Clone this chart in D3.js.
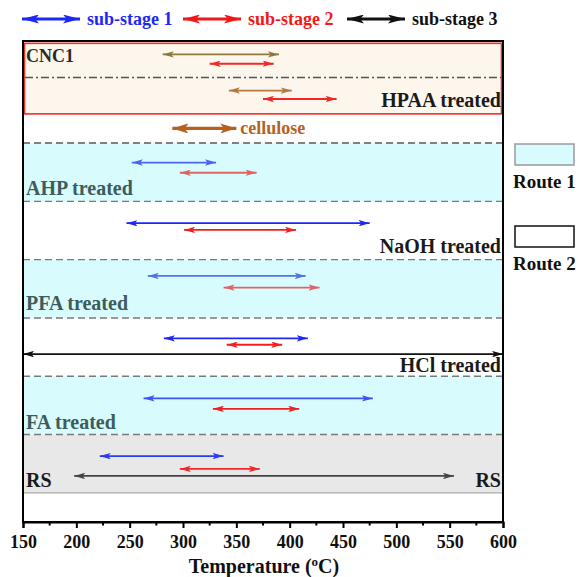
<!DOCTYPE html>
<html>
<head>
<meta charset="utf-8">
<script src="https://cdn.jsdelivr.net/npm/d3@7"></script>
<style>
  body { margin: 0; background: #fff; }
  svg text { font-family: "Liberation Serif", "Times New Roman", serif; font-weight: bold; }
</style>
</head>
<body>
<div id="chart"></div>
<script>
// Temperature ranges of the decomposition sub-stages
var arrowSample = ["CNC1", "CNC1", "HPAA", "HPAA", "cellulose",
                   "AHP", "AHP", "NaOH", "NaOH", "PFA", "PFA",
                   "HCl", "HCl", "HCl", "FA", "FA", "RS", "RS", "RS"];
var arrowStage  = ["ref", "2", "ref", "2", "cell",
                   "1", "2", "1", "2", "1", "2",
                   "1", "2", "3", "1", "2", "1", "2", "3"];
var arrowStart  = [281, 325, 343, 375, 290, 252, 297, 247, 301, 267, 338, 282, 341, 150, 263, 328, 222, 297, 198];
var arrowEnd    = [390, 385, 402, 444, 350, 331, 369, 475, 406, 415, 428, 417, 393, 600, 478, 409, 338, 372, 554];
var arrowLane   = [0.46, 0.78, 1.70, 1.99, 3.0, 4.17, 4.52, 6.25, 6.48, 8.06, 8.46,
                   10.2, 10.42, 10.74, 12.26, 12.62, 14.24, 14.68, 14.92];
var arrowColor  = ["#8f7a3c", "#f02828", "#b07a40", "#f02828", "#b5621e",
                   "#4b64f0", "#e06464", "#1e28f5", "#f02020", "#5570ee", "#e06464",
                   "#1e28f5", "#f02020", "#111111", "#3a55f0", "#f02020", "#2a3cf0", "#f02828", "#444444"];

// Horizontal bands (in lane units) and which route they belong to
var bandName   = ["cellulose", "AHP", "NaOH", "PFA", "HCl", "FA", "RS"];
var bandTop    = [2.5, 3.5, 5.5, 7.5, 9.5, 11.5, 13.5];
var bandBottom = [3.5, 5.5, 7.5, 9.5, 11.5, 13.5, 15.5];
var bandRoute  = ["none", "1", "2", "1", "2", "1", "raw"];

var labelText  = ["CNC1", "HPAA treated", "AHP treated", "NaOH treated", "PFA treated", "HCl treated", "FA treated", "RS", "RS"];
var labelLane  = [0.71, 2.26, 5.28, 7.27, 9.23, 11.34, 13.31, 15.3, 15.3];
var labelSide  = ["left", "right", "left", "right", "left", "right", "left", "left", "right"];

var stageNames  = ["sub-stage 1", "sub-stage 2", "sub-stage 3"];
var stageColors = ["#1e28f5", "#f01818", "#111111"];
var routeNames  = ["Route 1", "Route 2"];
var xTicks = d3.range(150, 601, 50);
var xMinorTicks = d3.range(175, 600, 50);

// Layout
var W = 579, H = 577;
var margin = { top: 41, right: 76, bottom: 55, left: 23 };
var width = W - margin.left - margin.right,
    height = H - margin.top - margin.bottom;

var svg = d3.select('#chart').append('svg')
    .attr('width', W)
    .attr('height', H);

var x = d3.scaleLinear().domain([150, 600]).range([margin.left, margin.left + width]);
var y = d3.scaleLinear().domain([0, 16.5]).range([margin.top, margin.top + height]);

var routeFill = { "1": "#d8fbfd", "2": "#ffffff", "none": "#ffffff", "raw": "#e8e8e8" };

// Arrow head markers, one per colour
var defs = svg.append("defs");
function marker(color, len, half) {
    var id = "m" + color.replace("#", "") + "_" + len;
    if (defs.select("#" + id).empty()) {
        defs.append("marker")
            .attr("id", id)
            .attr("markerUnits", "userSpaceOnUse")
            .attr("viewBox", "0 " + (-half) + " " + len + " " + (2 * half))
            .attr("refX", len)
            .attr("refY", 0)
            .attr("markerWidth", len)
            .attr("markerHeight", 2 * half)
            .attr("orient", "auto-start-reverse")
            .append("path")
            .attr("d", "M0," + (-half) + "L" + len + ",0L0," + half + "L" + (len * 0.22) + ",0Z")
            .attr("fill", color);
    }
    return "url(#" + id + ")";
}

// Bands
svg.selectAll("rect.band")
    .data(bandName)
    .enter().append("rect")
    .attr("class", "band")
    .attr("x", x(150))
    .attr("width", x(600) - x(150))
    .attr("y", function (d, i) { return y(bandTop[i]); })
    .attr("height", function (d, i) { return y(bandBottom[i]) - y(bandTop[i]); })
    .attr("fill", function (d, i) { return routeFill[bandRoute[i]]; });

// Dashed separators between bands
svg.selectAll("line.sep")
    .data(bandTop.slice(1).concat([bandTop[0]]).filter(function (d) { return d !== 2.5 && d !== 13.5; }).concat([3.5, 13.5]))
    .enter().append("line")
    .attr("x1", x(150)).attr("x2", x(600))
    .attr("y1", function (d) { return y(d); })
    .attr("y2", function (d) { return y(d); })
    .attr("stroke", "#7a7a7a")
    .attr("stroke-width", 1.4)
    .attr("stroke-dasharray", "7,4");

// RS bottom line
svg.append("line")
    .attr("x1", x(150)).attr("x2", x(600))
    .attr("y1", y(15.5)).attr("y2", y(15.5))
    .attr("stroke", "#a8a8a8").attr("stroke-width", 1.2);

// CNC1 / HPAA box
svg.append("rect")
    .attr("x", x(150) + 1.5)
    .attr("y", y(0.08))
    .attr("width", x(600) - x(150) - 3)
    .attr("height", y(2.5) - y(0.08))
    .attr("fill", "#fdf6ed")
    .attr("stroke", "#e8302c")
    .attr("stroke-width", 1.6);

svg.append("line")
    .attr("x1", x(150) + 2).attr("x2", x(600) - 2)
    .attr("y1", y(1.25)).attr("y2", y(1.25))
    .attr("stroke", "#555")
    .attr("stroke-width", 1.5)
    .attr("stroke-dasharray", "8,3,2,3");

// Arrows
svg.selectAll("line.arrow")
    .data(arrowStart)
    .enter().append("line")
    .attr("class", "arrow")
    .attr("x1", function (d, i) { return x(arrowStart[i]); })
    .attr("x2", function (d, i) { return x(arrowEnd[i]); })
    .attr("y1", function (d, i) { return y(arrowLane[i]); })
    .attr("y2", function (d, i) { return y(arrowLane[i]); })
    .attr("stroke", function (d, i) { return arrowColor[i]; })
    .attr("stroke-width", function (d, i) { return arrowStage[i] === "cell" ? 3.2 : 1.8; })
    .attr("marker-start", function (d, i) {
        return arrowStage[i] === "cell" ? marker(arrowColor[i], 16, 5) : marker(arrowColor[i], 11, 3.2);
    })
    .attr("marker-end", function (d, i) {
        return arrowStage[i] === "cell" ? marker(arrowColor[i], 16, 5) : marker(arrowColor[i], 11, 3.2);
    });

svg.append("text")
    .attr("x", x(350) + 4)
    .attr("y", y(3.19))
    .attr("font-size", 18)
    .attr("fill", "#b5621e")
    .text("cellulose");

// Row labels
var labelColor = { "CNC1": "#2a2a2a", "AHP treated": "#3d5c5c", "PFA treated": "#3d5c5c", "FA treated": "#3d5c5c" };
svg.selectAll("text.rowlab")
    .data(labelText)
    .enter().append("text")
    .attr("class", "rowlab")
    .attr("x", function (d, i) { return labelSide[i] === "left" ? x(150) + 3 : x(600) - 2; })
    .attr("y", function (d, i) { return y(labelLane[i]); })
    .attr("text-anchor", function (d, i) { return labelSide[i] === "left" ? "start" : "end"; })
    .attr("font-size", function (d) { return d === "CNC1" ? 18 : 20; })
    .attr("fill", function (d) { return labelColor[d] || "#1a1a1a"; })
    .text(function (d) { return d; });

// Frame
svg.append("rect")
    .attr("x", x(150)).attr("y", y(0))
    .attr("width", x(600) - x(150))
    .attr("height", y(16.5) - y(0))
    .attr("fill", "none")
    .attr("stroke", "#000")
    .attr("stroke-width", 2);

// X axis
var xAxis = svg.append("g")
    .attr("transform", "translate(0," + y(16.5) + ")")
    .call(d3.axisBottom(x).tickValues(xTicks).tickSize(6).tickPadding(7).tickFormat(d3.format("d")));
xAxis.select(".domain").attr("stroke-width", 2);
xAxis.selectAll(".tick line").attr("stroke-width", 2);
xAxis.selectAll(".tick text")
    .attr("font-size", 18)
    .attr("font-family", '"Liberation Serif", "Times New Roman", serif')
    .attr("font-weight", "bold")
    .attr("fill", "#111");

xAxis.selectAll("line.minor")
    .data(xMinorTicks)
    .enter().append("line")
    .attr("class", "minor")
    .attr("x1", function (d) { return x(d); })
    .attr("x2", function (d) { return x(d); })
    .attr("y1", 0).attr("y2", 3.5)
    .attr("stroke", "#000").attr("stroke-width", 2);

var title = svg.append("text")
    .attr("x", 264)
    .attr("y", 573)
    .attr("text-anchor", "middle")
    .attr("font-size", 20)
    .attr("fill", "#111");
title.append("tspan").text("Temperature (");
title.append("tspan").attr("font-size", 13).attr("dy", -7).text("o");
title.append("tspan").attr("dy", 7).text("C)");

// Top legend: sub-stages
var legendX = [22, 183, 347];
stageNames.forEach(function (name, i) {
    svg.append("line")
        .attr("x1", legendX[i]).attr("x2", legendX[i] + 58)
        .attr("y1", 19).attr("y2", 19)
        .attr("stroke", stageColors[i])
        .attr("stroke-width", 3)
        .attr("marker-start", marker(stageColors[i], 17, 4.5))
        .attr("marker-end", marker(stageColors[i], 17, 4.5));
    svg.append("text")
        .attr("x", legendX[i] + 65)
        .attr("y", 25)
        .attr("font-size", 18)
        .attr("fill", stageColors[i])
        .text(name);
});

// Right legend: routes
var routeBoxY = [144, 226];
var routeBoxFill = ["#d8fbfd", "#ffffff"];
var routeBoxStroke = ["#9a9a9a", "#111"];
routeNames.forEach(function (name, i) {
    svg.append("rect")
        .attr("x", 515).attr("y", routeBoxY[i])
        .attr("width", 59).attr("height", 21)
        .attr("fill", routeBoxFill[i])
        .attr("stroke", routeBoxStroke[i])
        .attr("stroke-width", 1.5);
    svg.append("text")
        .attr("x", 513)
        .attr("y", routeBoxY[i] + 44)
        .attr("font-size", 19)
        .attr("fill", "#111")
        .text(name);
});
</script>
</body>
</html>
